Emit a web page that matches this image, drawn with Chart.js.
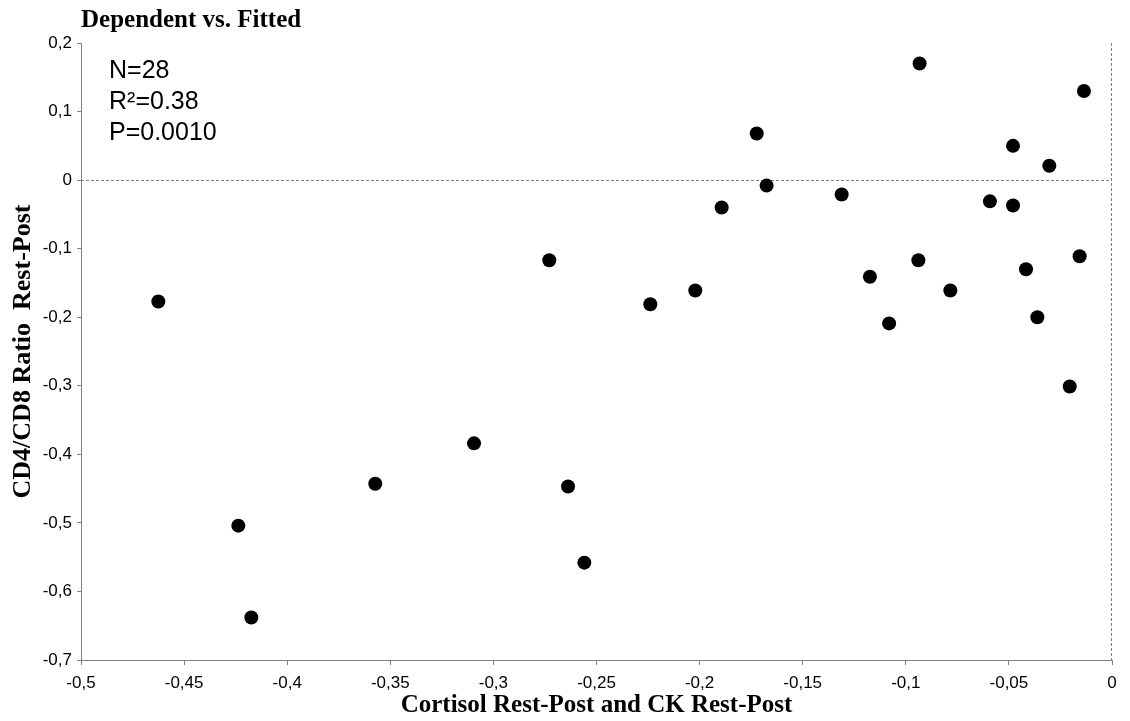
<!DOCTYPE html>
<html>
<head>
<meta charset="utf-8">
<script src="https://cdn.jsdelivr.net/npm/chart.js@4/dist/chart.umd.min.js"></script>
<style>
  html, body { margin: 0; padding: 0; background: #fff; }
  #wrap { width: 1130px; height: 721px; }
</style>
</head>
<body>
<div id="wrap"><canvas id="scatterChart" width="1130" height="721"></canvas></div>
<script>
  // values
  const cortisolCK = [
    -0.4625, -0.3573, -0.4237, -0.4174,
    -0.1723, -0.1675, -0.1893, -0.2729, -0.2021, -0.2239, -0.3094, -0.2638, -0.2559,
    -0.0933, -0.0136, -0.0480, -0.0304, -0.1311, -0.0592, -0.0480, -0.0939,
    -0.0157, -0.1174, -0.0417, -0.0784, -0.1081, -0.0362, -0.0205
  ];
  const cd4cd8Ratio = [
    -0.177, -0.443, -0.504, -0.638,
    0.068, -0.008, -0.040, -0.117, -0.161, -0.181, -0.384, -0.447, -0.558,
    0.170, 0.130, 0.050, 0.021, -0.021, -0.031, -0.037, -0.117,
    -0.111, -0.141, -0.130, -0.161, -0.209, -0.200, -0.301
  ];
  const statLines = ['N=28', 'R\u00B2=0.38', 'P=0.0010'];

  const points = cortisolCK.map((x, i) => ({ x: x, y: cd4cd8Ratio[i] }));
  const axisGray = '#808080';
  const serif = '"Liberation Serif", "Times New Roman", serif';
  const sans = '"Liberation Sans", Arial, sans-serif';

  function commaTick(v) {
    return Number(v.toFixed(2)).toString().replace('.', ',');
  }

  // dotted reference lines at x=0 and y=0, plus the stats text
  const extras = {
    id: 'extras',
    beforeDatasetsDraw(chart) {
      const { ctx, chartArea, scales } = chart;
      const y0 = scales.y.getPixelForValue(0);
      const x0 = scales.x.getPixelForValue(0);
      ctx.save();
      ctx.strokeStyle = axisGray;
      ctx.lineWidth = 1;
      ctx.setLineDash([3, 2]);
      ctx.beginPath();
      ctx.moveTo(chartArea.left, Math.round(y0) + 0.5);
      ctx.lineTo(chartArea.right, Math.round(y0) + 0.5);
      ctx.moveTo(Math.round(x0) - 0.5, chartArea.top);
      ctx.lineTo(Math.round(x0) - 0.5, chartArea.bottom);
      ctx.stroke();
      ctx.restore();
    },
    afterDraw(chart) {
      const { ctx, chartArea } = chart;
      ctx.save();
      ctx.fillStyle = '#000';
      ctx.font = '25px ' + sans;
      ctx.textBaseline = 'alphabetic';
      statLines.forEach((t, i) => {
        ctx.fillText(t, chartArea.left + 28, chartArea.top + 35 + i * 31);
      });
      ctx.restore();
    }
  };

  new Chart(document.getElementById('scatterChart'), {
    type: 'scatter',
    data: {
      datasets: [{
        data: points,
        backgroundColor: '#000',
        borderColor: '#000',
        borderWidth: 0,
        pointRadius: 7,
        pointHoverRadius: 7
      }]
    },
    options: {
      responsive: false,
      animation: false,
      events: [],
      layout: { padding: { left: 0, right: 18, top: 0, bottom: 0 } },
      plugins: {
        legend: { display: false },
        tooltip: { enabled: false },
        title: {
          display: true,
          text: 'Dependent vs. Fitted',
          align: 'start',
          fullSize: false,
          color: '#000',
          font: { family: serif, size: 25, weight: 'bold' },
          padding: { top: 6, bottom: 7 }
        }
      },
      scales: {
        x: {
          type: 'linear',
          min: -0.5,
          max: 0,
          afterFit(s) { s.height = 61; },
          ticks: {
            stepSize: 0.05,
            color: '#000',
            padding: 8,
            font: { family: sans, size: 17 },
            callback: commaTick
          },
          grid: { drawOnChartArea: false, drawTicks: true, tickLength: 5, tickColor: axisGray },
          border: { display: true, color: axisGray, width: 1 },
          title: {
            display: true,
            text: 'Cortisol Rest-Post and CK Rest-Post',
            color: '#000',
            font: { family: serif, size: 25, weight: 'bold' },
            padding: { top: 0, bottom: 0 }
          }
        },
        y: {
          type: 'linear',
          min: -0.7,
          max: 0.2,
          afterFit(s) { s.width = 81; },
          ticks: {
            stepSize: 0.1,
            color: '#000',
            padding: 5,
            font: { family: sans, size: 17 },
            callback: commaTick
          },
          grid: { drawOnChartArea: false, drawTicks: true, tickLength: 4, tickColor: axisGray },
          border: { display: true, color: axisGray, width: 1 },
          title: {
            display: true,
            text: 'CD4/CD8 Ratio  Rest-Post',
            color: '#000',
            font: { family: serif, size: 26, weight: 'bold' },
            padding: { top: 8, bottom: 0 }
          }
        }
      }
    },
    plugins: [extras]
  });
</script>
</body>
</html>
